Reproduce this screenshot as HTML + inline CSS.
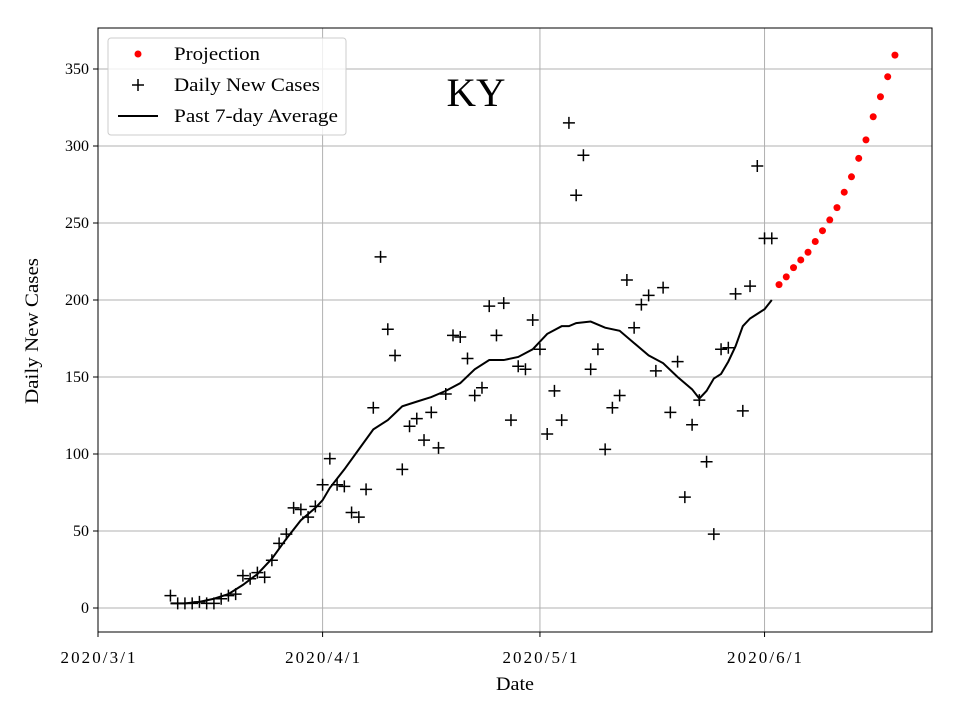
<!DOCTYPE html>
<html><head><meta charset="utf-8"><style>body{margin:0;background:#fff}svg{font-family:"Liberation Serif",serif}</style></head>
<body>
<svg id="c" width="960" height="720"></svg>
<script>
const dailyDays=[10,11,12,13,14,15,16,17,18,19,20,21,22,23,24,25,26,27,28,29,30,31,32,33,34,35,36,37,38,39,40,41,42,43,44,45,46,47,48,49,50,51,52,53,54,55,56,57,58,59,60,61,62,63,64,65,66,67,68,69,70,71,72,73,74,75,76,77,78,79,80,81,82,83,84,85,86,87,88,89,90,91,92,93];
const dailyCases=[8,3,3,3,4,3,3,6,8,9,21,19,23,20,31,42,48,65,64,59,66,80,97,80,79,62,59,77,130,228,181,164,90,118,123,109,127,104,139,177,176,162,138,143,196,177,198,122,157,155,187,168,113,141,122,315,268,294,155,168,103,130,138,213,182,197,203,154,208,127,160,72,119,135,95,48,168,169,204,128,209,287,240,240];
const avgDays=[10,12,14,16,18,20,22,24,26,28,30,31,32,34,36,38,40,42,44,46,48,50,52,54,56,58,60,62,64,65,66,68,70,72,74,76,78,80,82,83,84,85,86,87,88,89,90,91,92,93];
const avgVals=[3,3,4,6,9,15,22,32,45,57,65,70,78,90,103,116,122,131,134,137,141,146,155,161,161,163,168,178,183,183,185,186,182,180,172,164,159,150,142,136,141,149,152,160,170,183,188,191,194,200];
const projDays=[94,95,96,97,98,99,100,101,102,103,104,105,106,107,108,109,110];
const projVals=[210,215,221,226,231,238,245,252,260,270,280,292,304,319,332,345,359];
const yTicks=[0,50,100,150,200,250,300,350];
const xTickDays=[0,31,61,92];
const xTickLabels=["2020/3/1","2020/4/1","2020/5/1","2020/6/1"];
const L=98,R=932,T=28,B=632;
const X=d=>98+d*7.245;
const Y=v=>608-v*1.54;
const svg=document.getElementById('c');
const NS='http://www.w3.org/2000/svg';
function mk(tag,attrs,parent){const e=document.createElementNS(NS,tag);for(const k in attrs)e.setAttribute(k,attrs[k]);(parent||svg).appendChild(e);return e;}
yTicks.forEach(v=>{const l=mk('line',{x1:L,x2:R,y1:Y(v),y2:Y(v),stroke:'#b0b0b0','stroke-width':1});


const t=mk('line',{x1:L-5,x2:L,y1:Y(v),y2:Y(v),stroke:'#000'});


const tx=mk('text',{x:L-9,y:Y(v)+5,'text-anchor':'end','font-size':16});tx.textContent=v;

});
xTickDays.forEach((d,i)=>{const l=mk('line',{x1:X(d),x2:X(d),y1:T,y2:B,stroke:'#b0b0b0','stroke-width':1});


const t=mk('line',{x1:X(d),x2:X(d),y1:B,y2:B+5,stroke:'#000'});


const tx=mk('text',{x:X(d),y:B+31,'text-anchor':'middle','font-size':17,textLength:75,lengthAdjust:'spacing'});tx.textContent=xTickLabels[i];

});
const p=mk('polyline',{points:avgDays.map((d,i)=>X(d)+','+Y(avgVals[i])).join(' '),fill:'none',stroke:'#000','stroke-width':2});


dailyDays.forEach((d,i)=>{const x=X(d),y=Y(dailyCases[i]);const g=mk('path',{d:`M${x-6},${y}H${x+6}M${x},${y-6}V${y+6}`,stroke:'#000','stroke-width':1.5});

});
projDays.forEach((d,i)=>{const c=mk('circle',{cx:X(d),cy:Y(projVals[i]),r:3.5,fill:'#ff0000'});

});
const f=mk('rect',{x:L,y:T,width:R-L,height:B-T,fill:'none',stroke:'#000','stroke-width':1});


</script>
<svg style="position:absolute;left:0;top:0" width="960" height="720">
<text x="476" y="106" text-anchor="middle" font-size="40" textLength="59" lengthAdjust="spacingAndGlyphs">KY</text>
<text x="515" y="690" text-anchor="middle" font-size="19" textLength="38" lengthAdjust="spacingAndGlyphs">Date</text>
<text transform="translate(38,331) rotate(-90)" text-anchor="middle" font-size="19" textLength="146" lengthAdjust="spacingAndGlyphs">Daily New Cases</text>
<g>
<rect x="108" y="38" width="238" height="97" rx="3" fill="#fff" fill-opacity="0.8" stroke="#ccc"/>
<circle cx="138" cy="54" r="3.5" fill="#ff0000"/>
<text x="174" y="60" font-size="19" textLength="86" lengthAdjust="spacingAndGlyphs">Projection</text>
<path d="M132,85H144M138,79V91" stroke="#000" stroke-width="1.5"/>
<text x="174" y="91" font-size="19" textLength="146" lengthAdjust="spacingAndGlyphs">Daily New Cases</text>
<line x1="118" x2="158" y1="116" y2="116" stroke="#000" stroke-width="2"/>
<text x="174" y="122" font-size="19" textLength="164" lengthAdjust="spacingAndGlyphs">Past 7-day Average</text>
</g>
</svg>
</body></html>
